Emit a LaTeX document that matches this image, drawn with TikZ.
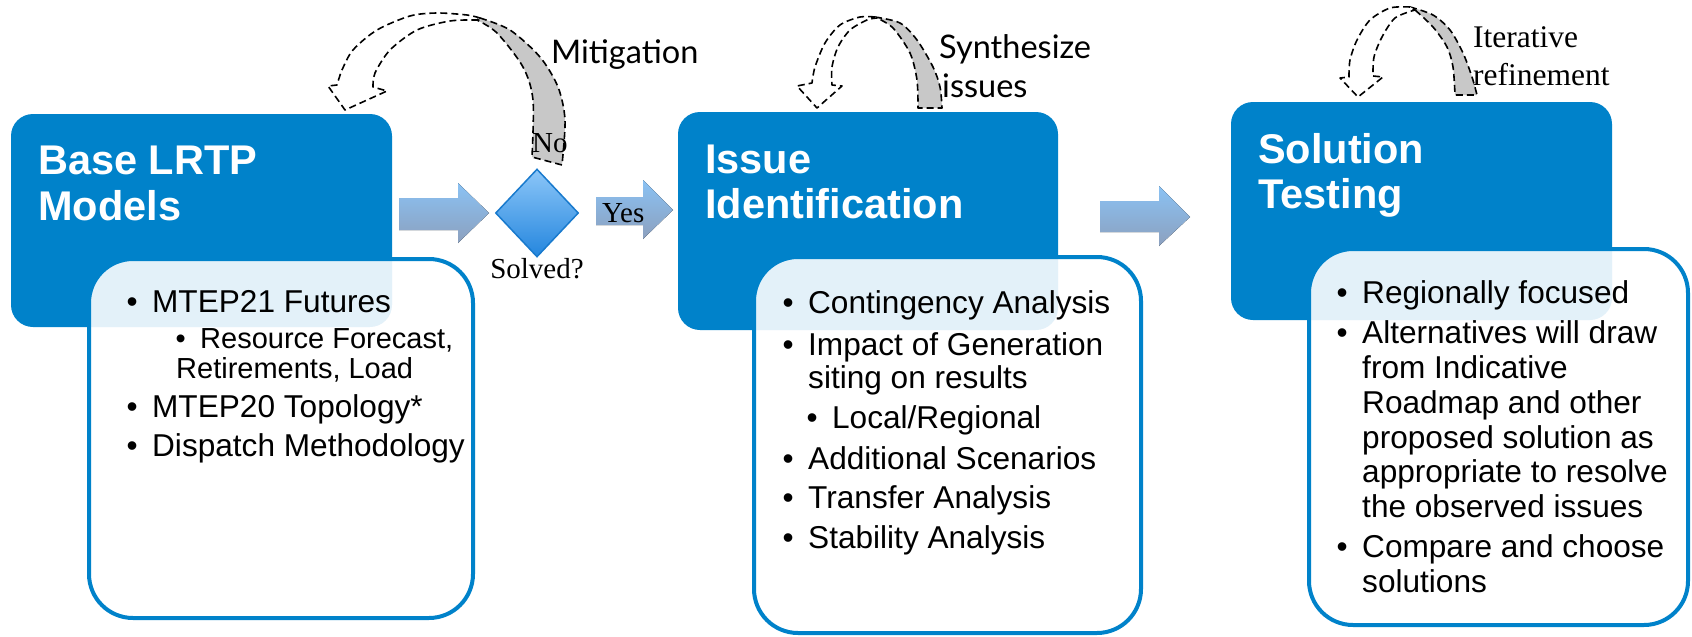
\documentclass[tikz,border=0pt]{standalone}
\usepackage{fontspec}
\setmainfont{Liberation Sans}
\newfontfamily\serifface{Liberation Serif}
\newfontfamily\latoface{Lato}
\usetikzlibrary{shapes.geometric}

\definecolor{boxblue}{RGB}{0,130,202}
\definecolor{arrtop}{RGB}{138,194,244}
\definecolor{arrbot}{RGB}{140,160,190}
\definecolor{dtop}{RGB}{140,198,248}
\definecolor{dbot}{RGB}{36,134,222}
\definecolor{dedge}{RGB}{25,122,205}
\definecolor{backgray}{RGB}{200,200,200}

% bullet placed 20pt to the left of the text start
\newcommand\bul{\llap{\textbullet\hspace{14.5pt}}}

\tikzset{
  headbox/.style={fill=boxblue, rounded corners=22pt},
  listbox/.style={draw=boxblue, line width=4pt, fill=white, fill opacity=0.89, rounded corners=44pt},
  titletxt/.style={anchor=base west, inner sep=0pt, text=white, font=\bfseries\fontsize{41.5}{45}\selectfont},
  bodytxt/.style={anchor=base west, inner sep=0pt, font=\fontsize{31.6}{36}\selectfont},
  subtxt/.style={anchor=base west, inner sep=0pt, font=\fontsize{29}{33}\selectfont},
  flowarrow/.style={top color=arrtop, bottom color=arrbot},
  serif/.style={inner sep=0pt, font=\serifface\fontsize{29}{32}\selectfont},
  loopnote/.style={anchor=base west, inner sep=0pt, font=\latoface\fontsize{32.5}{36}\selectfont},
  loopback/.style={fill=backgray, draw=black, line width=1.6pt, dash pattern=on 7pt off 4pt, line join=round},
  loopfront/.style={fill=white, draw=black, line width=1.6pt, dash pattern=on 7pt off 4pt, line join=round},
}

\begin{document}
\begin{tikzpicture}[x=1pt, y=-1pt]
\useasboundingbox (0,0) rectangle (1692,637);

% ---------- heading boxes ----------
\fill[headbox] (11,114) rectangle (392,327);
\fill[headbox] (678,112) rectangle (1058,330);
\fill[headbox] (1231,102) rectangle (1612,320);

% ---------- list boxes ----------
\draw[listbox] (89,259) rectangle (473,618);
\draw[listbox] (754,257) rectangle (1141,633);
\draw[listbox] (1309,249) rectangle (1688,625);

% ---------- headings ----------
\node[titletxt] (t1a) at (38,174) {Base LRTP};
\node[titletxt] (t1b) at (38,220) {Models};
\node[titletxt] (t2a) at (705,173) {Issue};
\node[titletxt] (t2b) at (705,218) {Identification};
\node[titletxt] (t3a) at (1258,163) {Solution};
\node[titletxt] (t3b) at (1258,208) {Testing};

% ---------- first list ----------
\node[bodytxt] (l1a) at (152,312) {\bul MTEP21 Futures};
\node[subtxt]  (l1b) at (200,348) {\bul Resource Forecast,};
\node[subtxt]  (l1c) at (176,378) {Retirements, Load};
\node[bodytxt] (l1d) at (152,417) {\bul MTEP20 Topology*};
\node[bodytxt] (l1e) at (152,456) {\bul Dispatch Methodology};

% ---------- second list ----------
\node[bodytxt] (l2a) at (808,313) {\bul Contingency Analysis};
\node[bodytxt] (l2b) at (808,355) {\bul Impact of Generation};
\node[bodytxt] (l2c) at (808,388) {siting on results};
\node[bodytxt] (l2d) at (832,428) {\bul Local/Regional};
\node[bodytxt] (l2e) at (808,469) {\bul Additional Scenarios};
\node[bodytxt] (l2f) at (808,508) {\bul Transfer Analysis};
\node[bodytxt] (l2g) at (808,548) {\bul Stability Analysis};

% ---------- third list ----------
\node[bodytxt] (l3a) at (1362,303) {\bul Regionally focused};
\node[bodytxt] (l3b) at (1362,343) {\bul Alternatives will draw};
\node[bodytxt] (l3c) at (1362,378) {from Indicative};
\node[bodytxt] (l3d) at (1362,413) {Roadmap and other};
\node[bodytxt] (l3e) at (1362,448) {proposed solution as};
\node[bodytxt] (l3f) at (1362,482) {appropriate to resolve};
\node[bodytxt] (l3g) at (1362,517) {the observed issues};
\node[bodytxt] (l3h) at (1362,557) {\bul Compare and choose};
\node[bodytxt] (l3i) at (1362,592) {solutions};

% ---------- block arrows ----------
\fill[flowarrow] (399,198) -- (458,198) -- (458,183) -- (489,213) -- (458,243) -- (458,230) -- (399,230) -- cycle;
\fill[flowarrow] (596,197) -- (643,197) -- (643,180) -- (673,210) -- (643,239) -- (643,225) -- (596,225) -- cycle;
\fill[flowarrow] (1100,201) -- (1159,201) -- (1159,186) -- (1190,217) -- (1159,246) -- (1159,232) -- (1100,232) -- cycle;

% ---------- decision ----------
\node[diamond, draw=dedge, line width=1.5pt, top color=dtop, bottom color=dbot,
      minimum width=83pt, minimum height=88pt, inner sep=0pt] (dec) at (537,213) {};
\node[serif, anchor=base] (solved) at (537,278) {Solved?};
\node[serif, anchor=base west] (yes) at (602,222) {Yes};

% ---------- loop arrow: mitigation ----------
\draw[loopback] plot[smooth] coordinates {(480,18) (510,30) (540,57) (558,87) (565,120) (562,165)}
  -- (532,157)
  -- plot[smooth] coordinates {(532,157) (533,100) (523,67) (497,33) (477,20)} -- cycle;
\draw[loopfront] plot[smooth] coordinates {(480,18) (467,15) (437,13) (410,16) (377,30) (353,50) (342,70) (337,85)}
  -- (328,86) -- (345,110) -- (387,91) -- (373,87)
  -- plot[smooth] coordinates {(373,87) (375,73) (390,50) (417,30) (450,21) (477,20)} -- cycle;
\node[serif, anchor=base west] (no) at (532,152) {No};
\node[loopnote] (mit) at (551,63) {Mitigation};

% ---------- loop arrow: synthesize ----------
\draw[loopback] plot[smooth] coordinates {(875,17) (900,23) (917,40) (933,67) (940,87) (942,108)}
  -- (918,108)
  -- plot[smooth] coordinates {(918,108) (917,80) (910,53) (893,28) (877,18)} -- cycle;
\draw[loopfront] plot[smooth] coordinates {(875,17) (860,17) (840,25) (825,43) (815,67) (812,83)}
  -- (797,86) -- (817,108) -- (842,86) -- (832,85)
  -- plot[smooth] coordinates {(832,85) (832,67) (838,47) (850,30) (867,20) (877,18)} -- cycle;
\node[loopnote] (syn1) at (939,58) {Synthesize};
\node[loopnote] (syn2) at (942,97) {issues};

% ---------- loop arrow: iterative refinement ----------
\draw[loopback] plot[smooth] coordinates {(1410,7) (1433,15) (1450,30) (1463,53) (1472,77) (1477,95)}
  -- (1455,95)
  -- plot[smooth] coordinates {(1455,95) (1453,67) (1447,47) (1433,27) (1415,10)} -- cycle;
\draw[loopfront] plot[smooth] coordinates {(1410,7) (1390,8) (1370,20) (1357,40) (1350,60) (1349,77)}
  -- (1340,78) -- (1358,97) -- (1383,77) -- (1373,76)
  -- plot[smooth] coordinates {(1373,76) (1374,57) (1382,37) (1395,18) (1415,10)} -- cycle;
\node[serif, anchor=base west, font=\serifface\fontsize{31.5}{35}\selectfont] (it1) at (1473,47) {Iterative};
\node[serif, anchor=base west, font=\serifface\fontsize{31.5}{35}\selectfont] (it2) at (1473,85) {refinement};

\end{tikzpicture}
\end{document}
